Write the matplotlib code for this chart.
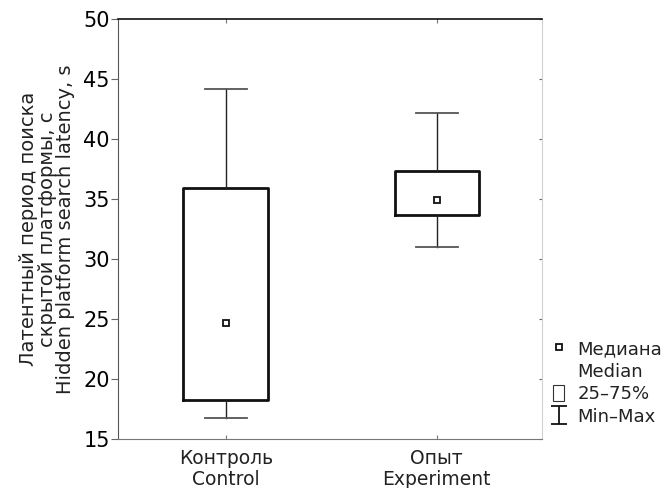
import numpy as np
import matplotlib
matplotlib.use('Agg')
import matplotlib.pyplot as plt
from matplotlib.lines import Line2D
from matplotlib.patches import Rectangle
from matplotlib.path import Path

plt.rcParams['font.family'] = ['DejaVu Sans']

# данные
groups = ['Контроль\nControl', 'Опыт\nExperiment']
mins = [16.8, 31.0]
q1 = [18.3, 33.7]
medians = [24.7, 34.9]
q3 = [35.9, 37.3]
maxs = [44.2, 42.2]
yticks = [15, 20, 25, 30, 35, 40, 45, 50]

pos = np.arange(1, len(groups) + 1)
stats_list = []
for i in range(len(groups)):
    stats_list.append({'med': medians[i], 'q1': q1[i], 'q3': q3[i],
                       'whislo': mins[i], 'whishi': maxs[i], 'fliers': []})

fig = plt.figure(figsize=(6.67, 4.88), dpi=100)
ax = fig.add_axes([0.177, 0.100, 0.636, 0.861])

ax.bxp(stats_list, positions=pos, widths=0.4, capwidths=0.2, showfliers=False,
       boxprops=dict(color='#111111', linewidth=2.0),
       whiskerprops=dict(color='#222222', linewidth=1.0),
       capprops=dict(color='#555555', linewidth=1.3),
       medianprops=dict(linewidth=0))
ax.plot(pos, medians, 's', ms=5, mfc='white', mec='#111111', mew=1.3, ls='none')

ax.set_xlim(0.49, 2.5)
ax.set_ylim(15, 50)
ax.set_yticks(yticks)
ax.set_xticks(pos)
ax.set_xticklabels(groups, fontsize=13.5, linespacing=1.15, color='#222222')
ax.tick_params(axis='y', direction='out', length=5, color='#666666', labelsize=15, pad=1)
ax.tick_params(axis='x', direction='in', length=3, color='#777777', top=True, pad=7)
ax.tick_params(axis='y', which='both', right=True)
for t in ax.yaxis.get_ticklines()[1::2]:
    t.set_marker(0)  # правые засечки внутрь
    t.set_color('#999999')
    t.set_markersize(2)

ax.spines['left'].set_color('#555555')
ax.spines['bottom'].set_color('#777777')
ax.spines['top'].set_color('#111111')
ax.spines['top'].set_linewidth(1.2)
ax.spines['right'].set_color('#d0d0d0')

ax.set_ylabel('Латентный период поиска\nскрытой платформы, с\nHidden platform search latency, s',
              fontsize=14, linespacing=0.95, color='#222222', labelpad=6)

# легенда
ibeam = Path([(-0.9, -1), (0.9, -1), (0, -1), (0, 1), (-0.9, 1), (0.9, 1)],
             [Path.MOVETO, Path.LINETO, Path.MOVETO, Path.LINETO, Path.MOVETO, Path.LINETO])
h_med = Line2D([], [], marker='s', ms=5, mfc='white', mec='#111111', mew=1.3, ls='none')
h_blank = Line2D([], [], ls='none')
h_box = Rectangle((0, 0), 1, 1, fc='white', ec='#333333', lw=0.8)
h_rng = Line2D([], [], marker=ibeam, ms=13, mfc='none', mec='#111111', mew=1.3, ls='none')
fig.legend([h_med, h_blank, h_box, h_rng], ['Медиана', 'Median', '25–75%', 'Min–Max'],
           loc='upper left', bbox_to_anchor=(0.829, 0.304), frameon=False, fontsize=13,
           handlelength=0.62, handleheight=1.0, handletextpad=0.73, labelspacing=0.25,
           borderpad=0, borderaxespad=0, labelcolor='#222222')

fig.savefig('out.png', dpi=100)
